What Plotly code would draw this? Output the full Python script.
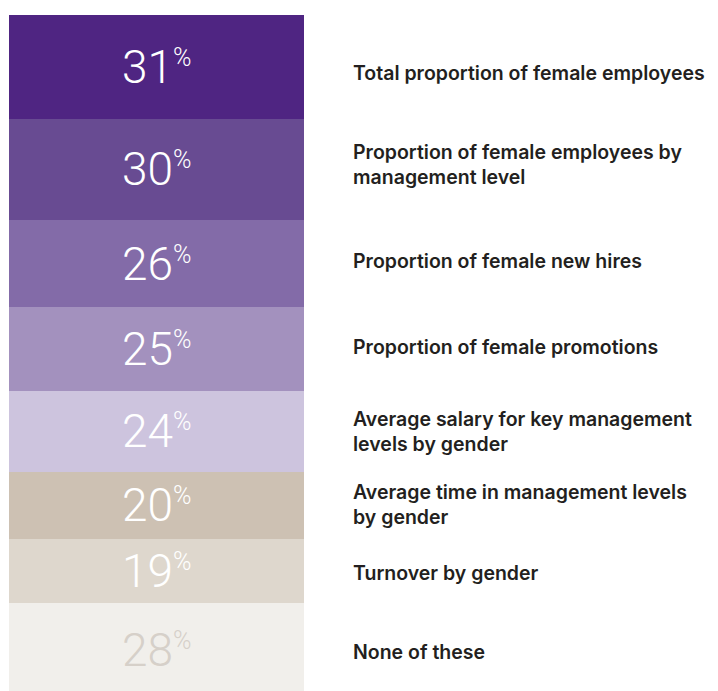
import plotly.graph_objects as go

categories = [
    "Total proportion of female employees",
    "Proportion of female employees by<br>management level",
    "Proportion of female new hires",
    "Proportion of female promotions",
    "Average salary for key management<br>levels by gender",
    "Average time in management levels<br>by gender",
    "Turnover by gender",
    "None of these",
]
values = [31, 30, 26, 25, 24, 20, 19, 28]
colors = ["#4f2582", "#684b92", "#836ba8", "#a391be", "#cdc4de", "#cdc1b3", "#ded7cd", "#f1efeb"]
number_colors = ["#ffffff"] * 7 + ["#d6d0c9"]
label_yshift = [-6, 5, 3, 2, 0, 1, -2, -2]  # fine vertical offsets of labels (px)

W, H = 710, 683  # page body adds an 8px offset

fig = go.Figure()
for cat, v, c in zip(categories, values, colors):
    fig.add_trace(go.Bar(
        x=[0], y=[v], name=cat.replace("<br>", " "),
        marker=dict(color=c, line=dict(width=0)),
        width=1, hoverinfo="skip", showlegend=False,
    ))

annotations = []
cum = 0
for cat, v, nc, ys in zip(categories, values, number_colors, label_yshift):
    center = cum + v / 2
    cum += v
    annotations.append(dict(
        x=0, y=center, xref="x", yref="y", xanchor="center", yanchor="middle",
        text=(f"<span style='font-size:46px'>{v}</span>"
              f"<sup><span style='font-size:25px'>%</span></sup>"),
        showarrow=False,
        font=dict(family="Roboto", size=40, color=nc, weight=300),
    ))
    annotations.append(dict(
        x=343 / W, y=center, xref="paper", yref="y", xanchor="left", yanchor="middle",
        yshift=ys, align="left", text=cat, showarrow=False,
        font=dict(family="Inter", size=19.5, color="#231f20", weight=600),
    ))

fig.update_layout(
    width=W, height=H,
    margin=dict(l=0, r=0, t=7, b=0),
    barmode="stack", bargap=0,
    paper_bgcolor="white", plot_bgcolor="white",
    xaxis=dict(domain=[1 / W, 296 / W], range=[-0.5, 0.5], visible=False, fixedrange=True),
    yaxis=dict(range=[201.3, 0], visible=False, fixedrange=True),
    annotations=annotations,
    hovermode=False,
)

fig.write_html("out.html", config={"displayModeBar": False})
